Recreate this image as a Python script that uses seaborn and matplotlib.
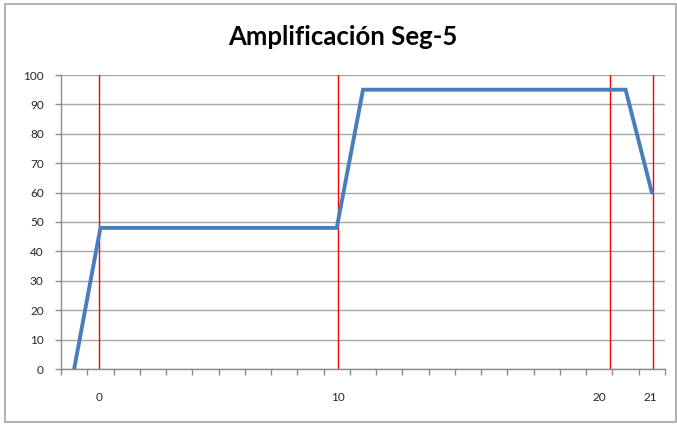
import matplotlib
matplotlib.use("Agg")
import matplotlib.pyplot as plt
import seaborn as sns
import pandas as pd
from matplotlib.patches import Rectangle

# Data (category-axis positions, 23 categories)
categories = list(range(23))
values = [0, 48, 48, 48, 48, 48, 48, 48, 48, 48, 48,
          95, 95, 95, 95, 95, 95, 95, 95, 95, 95, 95, 60]
marker_lines = [1.45, 10.55, 20.9, 22.55]
tick_labels = ["0", "10", "20", "21"]
tick_label_pos = [1.45, 10.55, 20.5, 22.45]
title = "Amplificación Seg-5"

sns.set_style("white")
plt.rcParams['font.family'] = ['Lato', 'DejaVu Sans']

fig = plt.figure(figsize=(6.77, 4.25), dpi=100)
ax = fig.add_axes([61/677, 56/425, 604/677, 294/425])

df = pd.DataFrame({"x": [c + 0.5 for c in categories], "y": values})

ax.set_xlim(0, 23)
ax.set_ylim(0, 100)
ax.set_yticks(range(0, 101, 10))
ax.yaxis.grid(True, color="#a6a6a6", lw=1.0)
ax.set_axisbelow(True)

for xv in marker_lines:
    ax.plot([xv, xv], [0, 100], color="#ff0000", lw=1.0, zorder=2)

sns.lineplot(data=df, x="x", y="y", ax=ax, color="#4a7ebb", lw=2.8, zorder=3,
             solid_joinstyle="miter")

ax.set_xticks(range(0, 24))
ax.set_xticklabels([])
ax.set_xticks(tick_label_pos, tick_labels, minor=True)
ax.tick_params(axis="x", which="major", length=4, color="#8c8c8c", width=1, direction="out")
ax.tick_params(axis="x", which="minor", length=0, pad=16.5, labelsize=8.5, labelcolor="#262626")
ax.tick_params(axis="y", length=4, color="#8c8c8c", width=1, direction="out",
               labelsize=8.5, labelcolor="#262626", pad=8.5)
ax.tick_params(left=True, bottom=True)
ax.set_xlabel("")
ax.set_ylabel("")

for s in ["top", "right"]:
    ax.spines[s].set_visible(False)
for s in ["left", "bottom"]:
    ax.spines[s].set_color("#8c8c8c")
    ax.spines[s].set_linewidth(1)

fig.text(343/677, 1 - 37/425, title, ha="center", va="center",
         fontsize=18.5, fontweight="bold", color="#000000")

fig.patches.append(Rectangle((5/677, 3/425), 671/677, 418/425, transform=fig.transFigure,
                             fill=False, edgecolor="#a6a6a6", lw=1.2))

fig.savefig("out.png", dpi=100)
